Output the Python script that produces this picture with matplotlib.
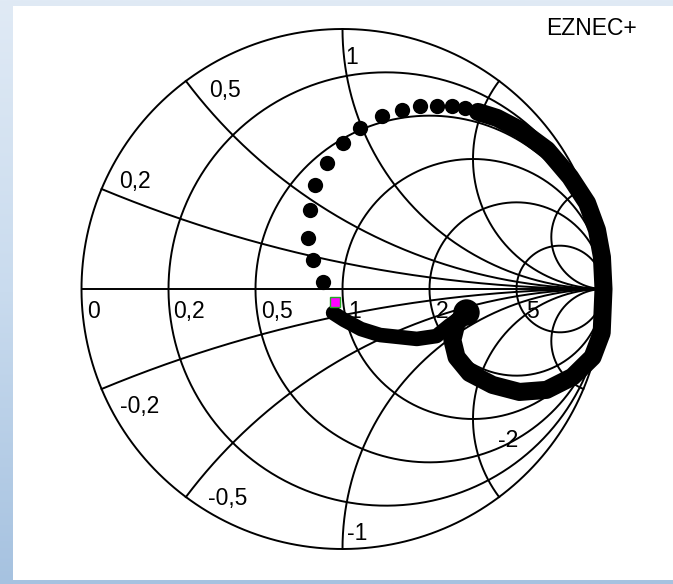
import numpy as np
import matplotlib
matplotlib.use("Agg")
import matplotlib.pyplot as plt
from matplotlib.colors import LinearSegmentedColormap

plt.rcParams["font.family"] = ["Liberation Sans", "DejaVu Sans"]

# grid values of the Smith chart
R_CIRCLES = [0, 0.2, 0.5, 1, 2, 5]
R_LABELS = ["0", "0,2", "0,5", "1", "2", "5"]
X_ARCS = [0.2, 0.5, 1, 2, 5, -0.2, -0.5, -1, -2, -5]
X_LABELS = {0.2: "0,2", 0.5: "0,5", 1: "1", -0.2: "-0,2", -0.5: "-0,5", -1: "-1", -2: "-2"}

# sweep, reflection coefficient (re, im)
DOTS_RE = [-0.075, -0.113, -0.132, -0.125, -0.105, -0.059, 0.002, 0.067,
           0.151, 0.228, 0.297, 0.362, 0.419, 0.469, 0.519]
DOTS_IM = [0.027, 0.112, 0.196, 0.304, 0.400, 0.485, 0.562, 0.619,
           0.665, 0.688, 0.704, 0.704, 0.704, 0.696, 0.681]
# dense part of the sweep (dots touching each other)
BAND_RE = [0.519, 0.592, 0.680, 0.784, 0.872, 0.937, 0.975, 0.994, 1.000,
           0.993, 0.958, 0.881, 0.782, 0.678, 0.575, 0.487, 0.437, 0.421,
           0.437, 0.475]
BAND_IM = [0.681, 0.658, 0.612, 0.535, 0.431, 0.331, 0.227, 0.123, 0.000,
           -0.169, -0.262, -0.338, -0.388, -0.396, -0.369, -0.323, -0.262,
           -0.196, -0.131, -0.090]
LOW_RE = [-0.036, 0.006, 0.071, 0.144, 0.220, 0.285, 0.360, 0.410, 0.452, 0.475]
LOW_IM = [-0.092, -0.119, -0.154, -0.177, -0.185, -0.192, -0.181, -0.140, -0.110, -0.090]
MARK_RE, MARK_IM = [-0.029], [-0.050]

# label offsets from the grid point, in pixels (dx right, dy down)
R_OFF = {0: (6, 11), 0.2: (5, 11), 0.5: (6, 11), 1: (6, 11), 2: (6, 11), 5: (10, 11)}
X_OFF = {0.2: (18, -19), 0.5: (23, -2), 1: (3, 17), -0.2: (18, 6),
         -0.5: (22, -10), -1: (4, -27), -2: (-1, -68)}


def gamma(z):
    return (z - 1) / (z + 1)


fig = plt.figure(figsize=(6.73, 5.84), dpi=100)
bg = fig.add_axes([0, 0, 1, 1])
cmap = LinearSegmentedColormap.from_list("bg", ["#e0eaf5", "#c9dbee", "#a6c2e0"])
bg.imshow(np.linspace(0, 1, 256)[:, None], aspect="auto", cmap=cmap,
          extent=[0, 1, 0, 1], origin="upper")
bg.set_axis_off()

ax = fig.add_axes([13 / 673, 4 / 584, 660 / 673, 574 / 584])
ax.set_facecolor("white")
ax.set_xlim(-329.5 / 261, 330.5 / 261)
ax.set_ylim(-291 / 260, 283 / 260)
ax.set_xticks([]); ax.set_yticks([])
for s in ax.spines.values():
    s.set_visible(False)

LW = 1.4
t = np.linspace(0, 2 * np.pi, 720)
for r in R_CIRCLES:
    c, rad = r / (1 + r), 1 / (1 + r)
    ax.plot(c + rad * np.cos(t), rad * np.sin(t), color="black", lw=LW)
ax.plot([-1, 1], [0, 0], color="black", lw=LW)

rr = np.tan(np.linspace(0, np.pi / 2 - 1e-4, 2000))
for x in X_ARCS:
    g = gamma(rr + 1j * x)
    ax.plot(g.real, g.imag, color="black", lw=LW)

PX = 0.72  # points per pixel at 100 dpi
for r, lab in zip(R_CIRCLES, R_LABELS):
    dx, dy = R_OFF[r]
    ax.annotate(lab, (gamma(r), 0), xytext=(dx * PX, -dy * PX), textcoords="offset points",
                ha="left", va="top", fontsize=16.5)

for x, lab in X_LABELS.items():
    g = gamma(1j * x)
    dx, dy = X_OFF[x]
    ax.annotate(lab, (g.real, g.imag), xytext=(dx * PX, -dy * PX), textcoords="offset points",
                ha="left", va="top", fontsize=16.5)

ax.plot(BAND_RE, BAND_IM, color="black", lw=13, solid_capstyle="round",
        solid_joinstyle="round")
ax.plot(LOW_RE, LOW_IM, color="black", lw=10.5, solid_capstyle="round",
        solid_joinstyle="round")
ax.plot(DOTS_RE, DOTS_IM, "o", color="black", ms=11, mew=0)
ax.plot([0.475], [-0.090], "o", color="black", ms=19, mew=0)
ax.plot(MARK_RE, MARK_IM, "s", color="#ff00ff", ms=6.5, mec="#22aa22", mew=1)

fig.text(546 / 673, 1 - 17 / 584, "EZNEC+", ha="left", va="top", fontsize=16.5)

fig.savefig("out.png", dpi=100)
